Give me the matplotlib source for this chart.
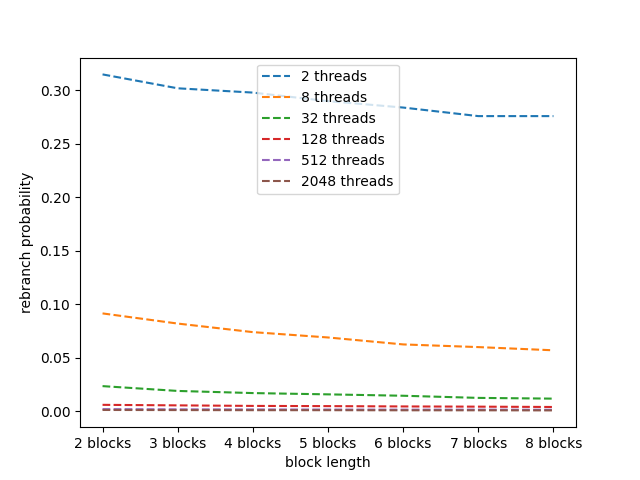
import matplotlib
matplotlib.use("Agg")
import matplotlib.pyplot as plt

# =========================
# DATA
# =========================

block_labels = ["2 blocks", "3 blocks", "4 blocks", "5 blocks", "6 blocks", "7 blocks", "8 blocks"]

threads_2 = [0.315, 0.302, 0.298, 0.290, 0.284, 0.276, 0.276]
threads_8 = [0.0915, 0.0820, 0.0740, 0.0690, 0.0625, 0.0600, 0.0570]
threads_32 = [0.0235, 0.0190, 0.0170, 0.0158, 0.0145, 0.0125, 0.0118]
threads_128 = [0.0060, 0.0055, 0.0050, 0.0048, 0.0045, 0.0043, 0.0040]
threads_512 = [0.0020, 0.0018, 0.0017, 0.0016, 0.0015, 0.0015, 0.0014]
threads_2048 = [0.0012, 0.0011, 0.0010, 0.0010, 0.0009, 0.0009, 0.0008]

series = [
    ("2 threads", threads_2),
    ("8 threads", threads_8),
    ("32 threads", threads_32),
    ("128 threads", threads_128),
    ("512 threads", threads_512),
    ("2048 threads", threads_2048),
]

# =========================
# PLOT
# =========================

fig, ax = plt.subplots(figsize=(6.4, 4.8), dpi=100)

for label, values in series:
    ax.plot(block_labels, values, linestyle="--", label=label)

ax.set_xlabel("block length")
ax.set_ylabel("rebranch probability")
ax.legend(loc="upper center")

fig.savefig("out.png")
